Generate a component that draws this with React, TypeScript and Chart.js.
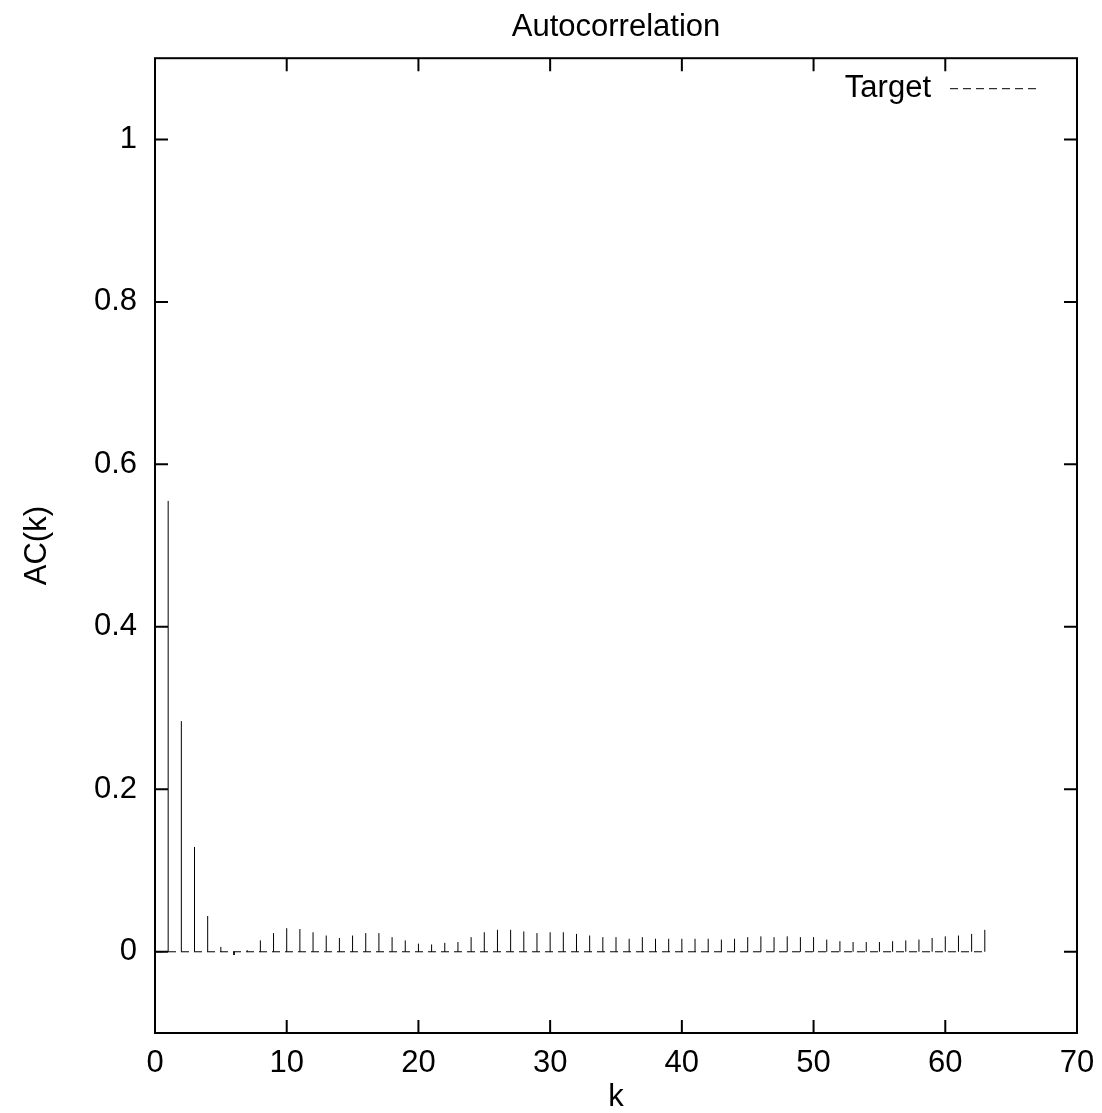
import React, { useEffect, useRef } from 'react';
import { Chart, registerables } from 'chart.js';

Chart.register(...registerables);

const chartTitle = 'Autocorrelation';
const xAxisLabel = 'k';
const yAxisLabel = 'AC(k)';
const seriesLabel = 'Target';

const lags = [
  1, 2, 3, 4, 5, 6, 7, 8, 9, 10, 11, 12, 13, 14, 15, 16, 17, 18, 19, 20, 21,
  22, 23, 24, 25, 26, 27, 28, 29, 30, 31, 32, 33, 34, 35, 36, 37, 38, 39, 40,
  41, 42, 43, 44, 45, 46, 47, 48, 49, 50, 51, 52, 53, 54, 55, 56, 57, 58, 59,
  60, 61, 62, 63,
];

const acValues = [
  0.555, 0.284, 0.129, 0.044, 0.006, -0.004, 0.002, 0.014, 0.023, 0.029,
  0.028, 0.024, 0.02, 0.017, 0.02, 0.023, 0.023, 0.018, 0.014, 0.01,
  0.009, 0.011, 0.012, 0.018, 0.024, 0.027, 0.027, 0.025, 0.023, 0.024,
  0.024, 0.022, 0.02, 0.018, 0.018, 0.016, 0.018, 0.016, 0.016, 0.016,
  0.016, 0.016, 0.015, 0.016, 0.018, 0.019, 0.018, 0.019, 0.018, 0.018,
  0.015, 0.013, 0.012, 0.012, 0.012, 0.013, 0.014, 0.015, 0.017, 0.019,
  0.02, 0.022, 0.027,
];

const xTicks = [0, 10, 20, 30, 40, 50, 60, 70];
const yTicks = [0, 0.2, 0.4, 0.6, 0.8, 1];
const xRange = [0, 70];
const yRange = [-0.1, 1.1];

const FONT_FAMILY = '"Liberation Sans", Arial, Helvetica, sans-serif';
const FONT_SIZE = 31;

const framePlugin = {
  id: 'gnuplotFrame',
  afterDraw(chart: any) {
    const { ctx, chartArea, scales } = chart;
    const { left, right, top, bottom } = chartArea;
    const x = scales.x;
    const y = scales.y;
    ctx.save();
    ctx.strokeStyle = '#000';
    ctx.lineWidth = 2;
    ctx.setLineDash([]);
    ctx.strokeRect(left, top, right - left, bottom - top);
    ctx.beginPath();
    xTicks.forEach((v) => {
      const px = x.getPixelForValue(v);
      ctx.moveTo(px, bottom);
      ctx.lineTo(px, bottom - 13);
      ctx.moveTo(px, top);
      ctx.lineTo(px, top + 13);
    });
    yTicks.forEach((v) => {
      const py = y.getPixelForValue(v);
      ctx.moveTo(left, py);
      ctx.lineTo(left + 13, py);
      ctx.moveTo(right, py);
      ctx.lineTo(right - 13, py);
    });
    ctx.stroke();

    // key (gnuplot style: text then line sample)
    const ky = top + 30;
    ctx.font = `${FONT_SIZE}px ${FONT_FAMILY}`;
    ctx.fillStyle = '#000';
    ctx.textAlign = 'right';
    ctx.textBaseline = 'middle';
    ctx.fillText(seriesLabel, right - 146, ky);
    ctx.lineWidth = 1;
    ctx.setLineDash([8, 5]);
    ctx.beginPath();
    ctx.moveTo(right - 127, ky + 0.5);
    ctx.lineTo(right - 36, ky + 0.5);
    ctx.stroke();
    ctx.restore();
  },
};

export default function App() {
  const canvasRef = useRef<HTMLCanvasElement | null>(null);

  useEffect(() => {
    const canvas = canvasRef.current;
    if (!canvas) return;

    const impulseData: any[] = [];
    lags.forEach((k, i) => {
      impulseData.push({ x: k, y: 0 });
      impulseData.push({ x: k, y: acValues[i] });
      impulseData.push({ x: k, y: null });
    });
    const baselineData = [
      { x: 0, y: 0 },
      { x: lags[lags.length - 1], y: 0 },
    ];

    const font = { family: FONT_FAMILY, size: FONT_SIZE, weight: 'normal' as const };

    const chart = new Chart(canvas, {
      type: 'line',
      data: {
        datasets: [
          {
            label: seriesLabel,
            data: baselineData,
            borderColor: '#000',
            borderWidth: 1,
            borderDash: [8, 5],
            pointRadius: 0,
            fill: false,
          },
          {
            label: seriesLabel + ' impulses',
            data: impulseData,
            borderColor: '#000',
            borderWidth: 1,
            pointRadius: 0,
            spanGaps: false,
            fill: false,
          },
        ],
      },
      plugins: [framePlugin],
      options: {
        animation: false,
        responsive: false,
        layout: { padding: { left: 0, top: 0, right: 25, bottom: 0 } },
        plugins: {
          legend: { display: false },
          tooltip: { enabled: false },
          title: {
            display: true,
            text: chartTitle,
            color: '#000',
            fullSize: false,
            font: { ...font, lineHeight: 1.2 },
            padding: { top: 9, bottom: 12 },
          },
        },
        scales: {
          x: {
            type: 'linear',
            position: 'bottom',
            min: xRange[0],
            max: xRange[1],
            afterBuildTicks: (s: any) => {
              s.ticks = xTicks.map((v) => ({ value: v }));
            },
            afterFit: (s: any) => {
              s.height = 80;
              s.paddingLeft = 0;
              s.paddingRight = 0;
            },
            grid: { display: false, drawTicks: false },
            border: { display: false },
            ticks: {
              color: '#000',
              font,
              padding: 12,
              maxRotation: 0,
              autoSkip: false,
              callback: (v: any) => String(v),
            },
            title: {
              display: true,
              text: xAxisLabel,
              color: '#000',
              font: { ...font, lineHeight: 1 },
              padding: { top: 0, bottom: 0 },
            },
          },
          y: {
            type: 'linear',
            position: 'left',
            min: yRange[0],
            max: yRange[1],
            afterBuildTicks: (s: any) => {
              s.ticks = yTicks.map((v) => ({ value: v }));
            },
            afterFit: (s: any) => {
              s.width = 155;
              s.paddingTop = 0;
              s.paddingBottom = 0;
            },
            grid: { display: false, drawTicks: false },
            border: { display: false },
            ticks: {
              color: '#000',
              font,
              padding: 18,
              autoSkip: false,
              callback: (v: any) => String(v),
            },
            title: {
              display: true,
              text: yAxisLabel,
              color: '#000',
              font: { ...font, lineHeight: 1 },
              padding: { top: 22, bottom: 0 },
            },
          },
        },
      },
    });

    return () => {
      chart.destroy();
    };
  }, []);

  return (
    <div style={{ position: 'absolute', left: 0, top: 0, width: 1102, height: 1113, background: '#fff' }}>
      <canvas ref={canvasRef} width={1102} height={1113} style={{ width: 1102, height: 1113, display: 'block' }} />
    </div>
  );
}
